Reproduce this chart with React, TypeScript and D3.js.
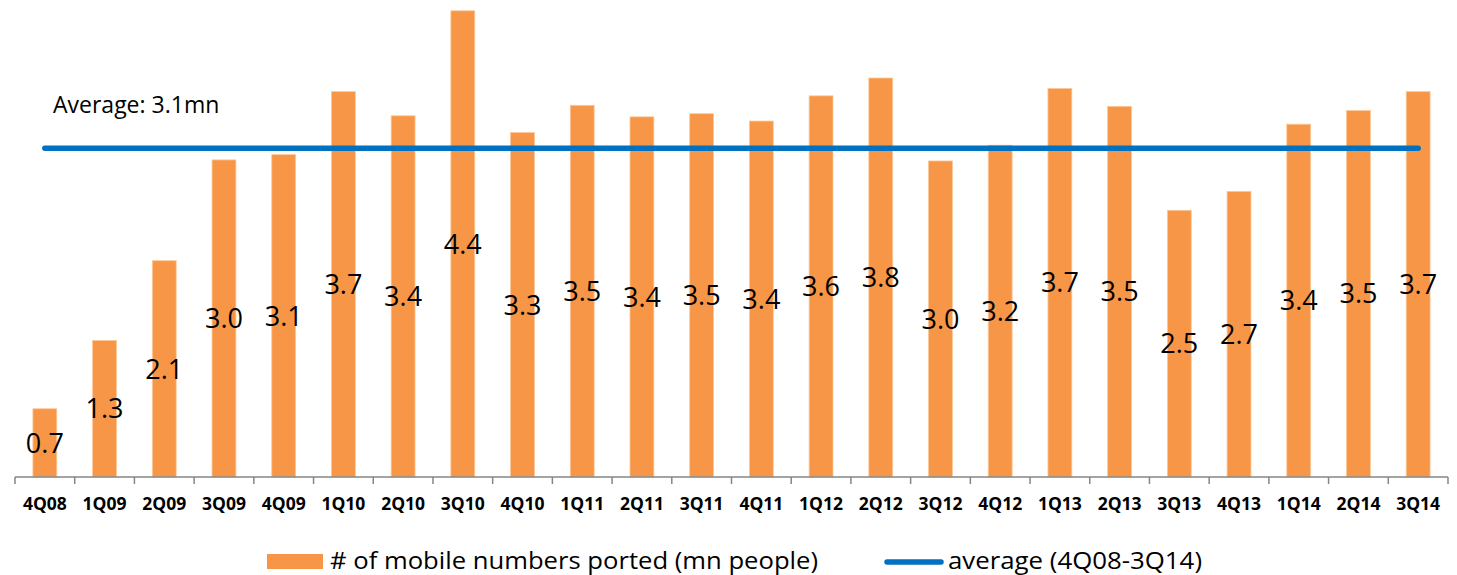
import React from "react";
import * as d3 from "d3";

const categories = ["4Q08","1Q09","2Q09","3Q09","4Q09","1Q10","2Q10","3Q10","4Q10","1Q11","2Q11","3Q11","4Q11","1Q12","2Q12","3Q12","4Q12","1Q13","2Q13","3Q13","4Q13","1Q14","2Q14","3Q14"];
const ported = [0.65,1.30,2.06,3.02,3.07,3.67,3.44,4.44,3.28,3.54,3.43,3.46,3.39,3.63,3.80,3.01,3.16,3.70,3.53,2.54,2.72,3.36,3.49,3.67];
const average = 3.13;
const averageLabel = "Average: 3.1mn";
const legendBars = "# of mobile numbers ported (mn people)";
const legendLine = "average (4Q08-3Q14)";

const W = 1457, H = 575;
const ORANGE = "#F79646";
const BLUE = "#0070C0";
const FONT = "'Open Sans', 'Noto Sans', sans-serif";

export default function App() {
  const x = d3.scaleBand<string>().domain(categories).range([15, 1448]).paddingInner(0.6).paddingOuter(0.3);
  const y = d3.scaleLinear().domain([0, 4.5]).range([477, 477 - 4.5 * 105]);
  const step = x.step();
  const x0 = 15;
  const bw = x.bandwidth();
  const cx = (c: string) => (x(c) as number) + bw / 2;

  return (
    <svg width={W} height={H} style={{ position: "absolute", left: 0, top: 0, background: "#fff" }}>
      {categories.map((c, i) => (
        <rect key={c} x={x(c)} y={y(ported[i])} width={bw} height={y(0) - y(ported[i])}
          fill={ORANGE} stroke="#FBC898" strokeWidth={0.8} />
      ))}
      {categories.map((c, i) => (
        <text key={"v" + c} x={cx(c)} y={(y(0) + y(ported[i])) / 2} dy="0.36em" textAnchor="middle"
          fontFamily={FONT} fontSize={27} fill="#000">{ported[i].toFixed(1)}</text>
      ))}
      <line x1={cx(categories[0])} x2={cx(categories[categories.length - 1])} y1={y(average)} y2={y(average)}
        stroke={BLUE} strokeWidth={5.5} strokeLinecap="round" />
      <text x={53} y={113} fontFamily={FONT} fontSize={23} fill="#000">{averageLabel}</text>
      {/* axis */}
      <line x1={x0} x2={1448} y1={477} y2={477} stroke="#868686" strokeWidth={1.5} />
      {d3.range(categories.length + 1).map((i) => (
        <line key={"t" + i} x1={x0 + i * step} x2={x0 + i * step} y1={477} y2={484} stroke="#868686" strokeWidth={1.5} />
      ))}
      {categories.map((c) => (
        <text key={"l" + c} x={cx(c)} y={510} textAnchor="middle" fontFamily={FONT} fontWeight="bold"
          fontSize={17.5} fill="#000">{c}</text>
      ))}
      {/* legend */}
      <rect x={267} y={554} width={56} height={15} fill={ORANGE} />
      <text x={330} y={569} fontFamily={FONT} fontSize={23} fill="#000" textLength={488} lengthAdjust="spacingAndGlyphs">{legendBars}</text>
      <line x1={887} x2={941} y1={562} y2={562} stroke={BLUE} strokeWidth={5.5} strokeLinecap="round" />
      <text x={948} y={569} fontFamily={FONT} fontSize={23} fill="#000" textLength={254} lengthAdjust="spacingAndGlyphs">{legendLine}</text>
    </svg>
  );
}
